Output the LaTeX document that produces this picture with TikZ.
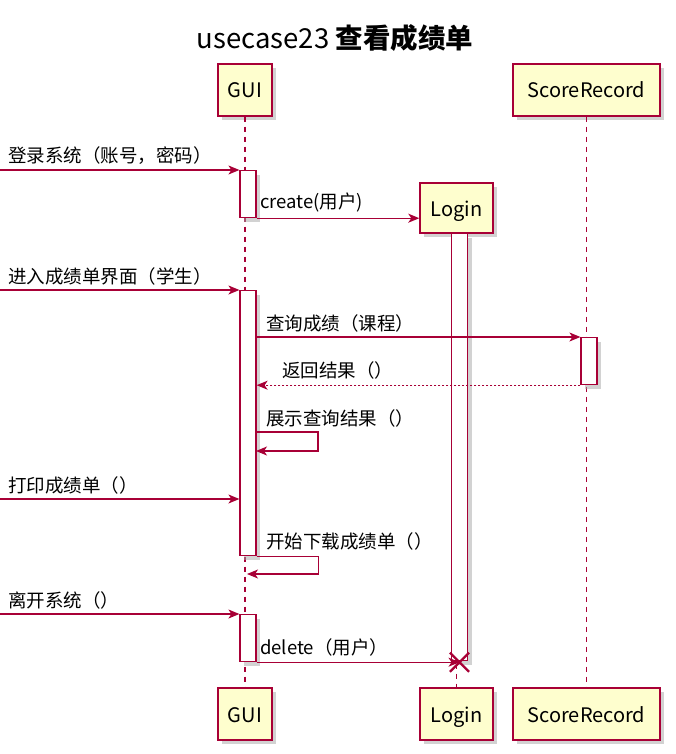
\documentclass[tikz,border=0pt]{standalone}
\usepackage{fontspec}
\setmainfont{Noto Sans CJK SC}
\usetikzlibrary{arrows.meta,positioning,shadows,shapes.misc}
\definecolor{umlred}{HTML}{A80036}
\definecolor{umlfill}{HTML}{FEFECE}

\begin{document}
\begin{tikzpicture}[x=1pt, y=-1pt,
    actor/.style={rectangle, draw=umlred, fill=umlfill, line width=1.4pt, minimum height=52pt, inner sep=0pt, text height=17pt, text depth=1pt, font=\fontsize{20}{22}\selectfont, drop shadow={shadow xshift=4pt, shadow yshift=-4pt, fill=black!35}},
    act/.style={rectangle, draw=umlred, fill=white, line width=1.2pt, minimum width=16pt, inner sep=0pt, anchor=north, drop shadow={shadow xshift=4pt, shadow yshift=-4pt, fill=black!35}},
    lifeline/.style={draw=umlred, line width=1.2pt, dash pattern=on 5pt off 5pt},
    line/.style={draw=umlred, line width=1.3pt, -{Stealth[length=11pt, width=9pt, inset=3pt]}},
    reply/.style={line, dash pattern=on 2pt off 2pt},
    msg/.style={font=\fontsize{18.5}{20}\selectfont, inner sep=0pt, anchor=south west},
    destroy/.style={cross out, draw=umlred, line width=2.2pt, minimum size=17pt, inner sep=0pt}
]
\useasboundingbox (0,0) rectangle (675,754);

\node [font=\fontsize{27.5}{30}\selectfont] (title) at (335,38) {usecase23 \textbf{查看成绩单}};

% participants
\node [actor, minimum width=54pt] (gui) at (245,90) {GUI};
\node [actor, minimum width=147pt] (score) at (586.5,90) {ScoreRecord};
\node [actor, minimum width=73pt, minimum height=50pt] (login) at (456.5,208) {Login};
\node [actor, minimum width=54pt] (guiEnd) at (245,714) {GUI};
\node [actor, minimum width=73pt] (loginEnd) at (456.5,714) {Login};
\node [actor, minimum width=147pt] (scoreEnd) at (586.5,714) {ScoreRecord};

\path [lifeline] (gui) -- (guiEnd);
\path [lifeline] (login) -- (loginEnd);
\path [lifeline] (score) -- (scoreEnd);

% activations
\node [act, minimum height=427pt] (loginAct) at (459.5,233) {};
\node [act, minimum height=47pt] (guiAct1) at (248,170) {};
\node [act, minimum height=265pt] (guiAct2) at (248,290) {};
\node [act, minimum height=47pt] (scoreAct) at (589,337) {};
\node [act, minimum height=47pt] (guiAct3) at (248,614) {};

\coordinate (in1) at (0,170);
\coordinate (in2) at (0,290);
\coordinate (in3) at (0,499);
\coordinate (in4) at (0,614);
\coordinate (show) at (256,432);
\coordinate (down) at (247,574);

% messages
\path [line] (in1) -- (guiAct1.north west);
\node [msg] (m1) at (8,165) {登录系统（账号，密码）};

\path [line] (guiAct1.south east) -- (guiAct1.south east -| login.west);
\node [msg] (m2) at (260,212) {create(用户)};

\path [line] (in2) -- (guiAct2.north west);
\node [msg] (m3) at (8,285) {进入成绩单界面（学生）};

\path [line] (guiAct2.east |- scoreAct.north) -- (scoreAct.north west);
\node [msg] (m4) at (266,332) {查询成绩（课程）};

\path [reply] (scoreAct.south west) -- (scoreAct.south west -| guiAct2.east);
\node [msg] (m5) at (282,379) {返回结果（）};

\path [line] (show) -- ++(62,0) -- ++(0,19) -- ++(-62,0);
\node [msg] (m6) at (266,427) {展示查询结果（）};

\path [line] (in3) -- (guiAct2.west |- in3);
\node [msg] (m7) at (8,494) {打印成绩单（）};

\path [line] (guiAct2.south east) -- ++(62,0) |- (down);
\node [msg] (m8) at (266,550) {开始下载成绩单（）};

\path [line] (in4) -- (guiAct3.north west);
\node [msg] (m9) at (8,609) {离开系统（）};

\node [destroy] (kill) at (guiAct3.south east -| loginAct) {};
\path [line] (guiAct3.south east) -- (kill.center);
\node [msg] (m10) at (260,656) {delete（用户）};

\end{tikzpicture}
\end{document}
